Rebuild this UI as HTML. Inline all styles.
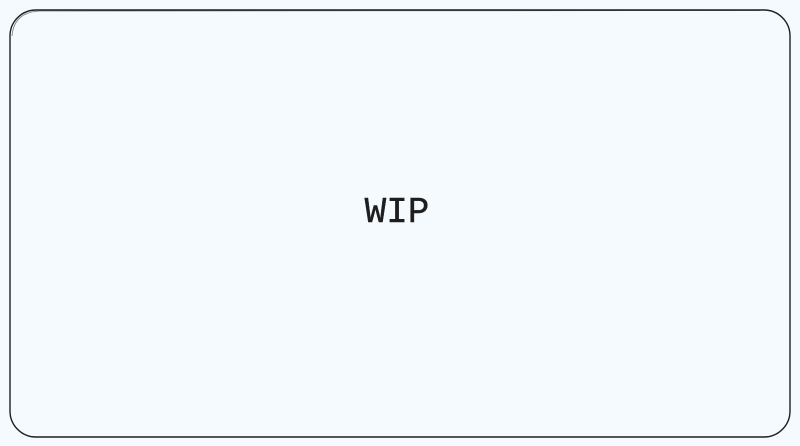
<!DOCTYPE html>
<html><head><style>
html,body{margin:0;padding:0;width:800px;height:446px;background:#f5faff;overflow:hidden}
svg{display:block}
</style></head><body>
<svg width="800" height="446" xmlns="http://www.w3.org/2000/svg">
<rect x="0" y="0" width="800" height="446" fill="#f5faff"/>
<rect x="10" y="10" width="780" height="427" rx="26" ry="26" fill="#f5faff" stroke="#1e1e1e" stroke-width="1.4"/>
<path d="M12 36 Q14 12 40 11 L760 10.5" fill="none" stroke="#1e1e1e" stroke-width="0.8" opacity="0.6"/>
<text x="397" y="222" font-family="Liberation Mono, monospace" font-size="36" fill="#1e1e1e" stroke="#1e1e1e" stroke-width="0.4" text-anchor="middle">WIP</text>
</svg>
</body></html>
